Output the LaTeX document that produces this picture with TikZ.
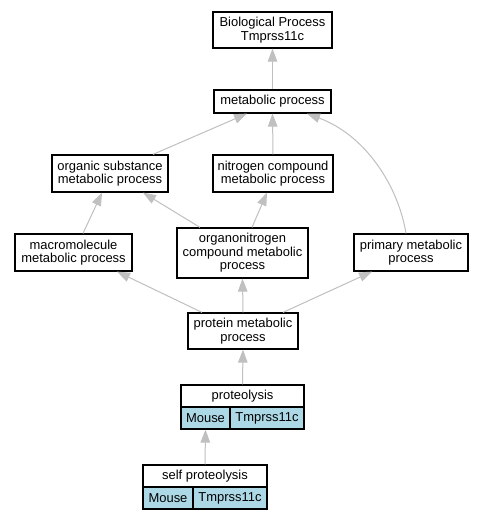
\documentclass[tikz,border=0pt]{standalone}
\usepackage{fontspec}
\setmainfont{Liberation Sans}
\usetikzlibrary{arrows.meta}
\definecolor{edgegray}{HTML}{C0C0C0}
\definecolor{cellblue}{HTML}{ADD8E6}
\begin{document}
\begin{tikzpicture}[x=1bp,y=-1bp,
  box/.style={draw=black, line width=1.2bp, fill=white, inner sep=0pt, align=center,
    font=\fontsize{13}{13.4}\selectfont},
  cell/.style={box, fill=cellblue},
  edge/.style={draw=edgegray, line width=1bp, -{Triangle[length=13bp,width=9.5bp]}}]
\useasboundingbox (0,0) rectangle (483,520);
\fill[white] (0,0) rectangle (483,520);
% nodes
\node[box, minimum width=119bp, minimum height=36bp] (bp) at (272.5,30) {Biological Process\\Tmprss11c};
\node[box, minimum width=117bp, minimum height=23bp] (met) at (272.5,101.5) {metabolic process};
\node[box, minimum width=116bp, minimum height=37bp] (org) at (110,173.5) {organic substance\\metabolic process};
\node[box, minimum width=120bp, minimum height=37bp] (nit) at (273,173.5) {nitrogen compound\\metabolic process};
\node[box, minimum width=117bp, minimum height=37bp] (mac) at (73.5,252.5) {macromolecule\\metabolic process};
\node[box, minimum width=131bp, minimum height=50bp] (orgn) at (242.5,253) {organonitrogen\\compound metabolic\\process};
\node[box, minimum width=114bp, minimum height=37bp] (pri) at (411,252.5) {primary metabolic\\process};
\node[box, minimum width=110bp, minimum height=36bp] (prot) at (243,331) {protein metabolic\\process};
% proteolysis record
\node[box, minimum width=123bp, minimum height=22bp] (pl) at (242.5,396) {proteolysis};
\node[cell, minimum width=49bp, minimum height=22bp] (plA) at (205.5,418) {Mouse};
\node[cell, minimum width=74bp, minimum height=22bp] (plB) at (267,418) {Tmprss11c};
% self proteolysis record
\node[box, minimum width=124bp, minimum height=22bp] (spl) at (205,476) {self proteolysis};
\node[cell, minimum width=50bp, minimum height=22bp] (splA) at (168,498) {Mouse};
\node[cell, minimum width=74bp, minimum height=22bp] (splB) at (230,498) {Tmprss11c};
% edges
\draw[edge] (met.north) -- (bp.south);
\draw[edge] ([xshift=43bp]org.north) -- ([xshift=-25.5bp]met.south);
\draw[edge] (nit.north) -- (met.south);
\draw[edge] ([xshift=-5bp]pri.north) .. controls (398,185) and (365,135) .. ([xshift=34.5bp]met.south);
\draw[edge] ([xshift=9.5bp]mac.north) -- ([xshift=-8bp]org.south);
\draw[edge] ([xshift=-42.5bp]orgn.north) -- ([xshift=33bp]org.south);
\draw[edge] ([xshift=9.5bp]orgn.north) -- ([xshift=-6bp]nit.south);
\draw[edge] ([xshift=-41bp]prot.north) -- ([xshift=43.5bp]mac.south);
\draw[edge] (prot.north) -- (orgn.south);
\draw[edge] ([xshift=40bp]prot.north) -- ([xshift=-39bp]pri.south);
\draw[edge] (pl.north) -- (prot.south);
\draw[edge] (spl.north) -- (plA.south);
\end{tikzpicture}
\end{document}
